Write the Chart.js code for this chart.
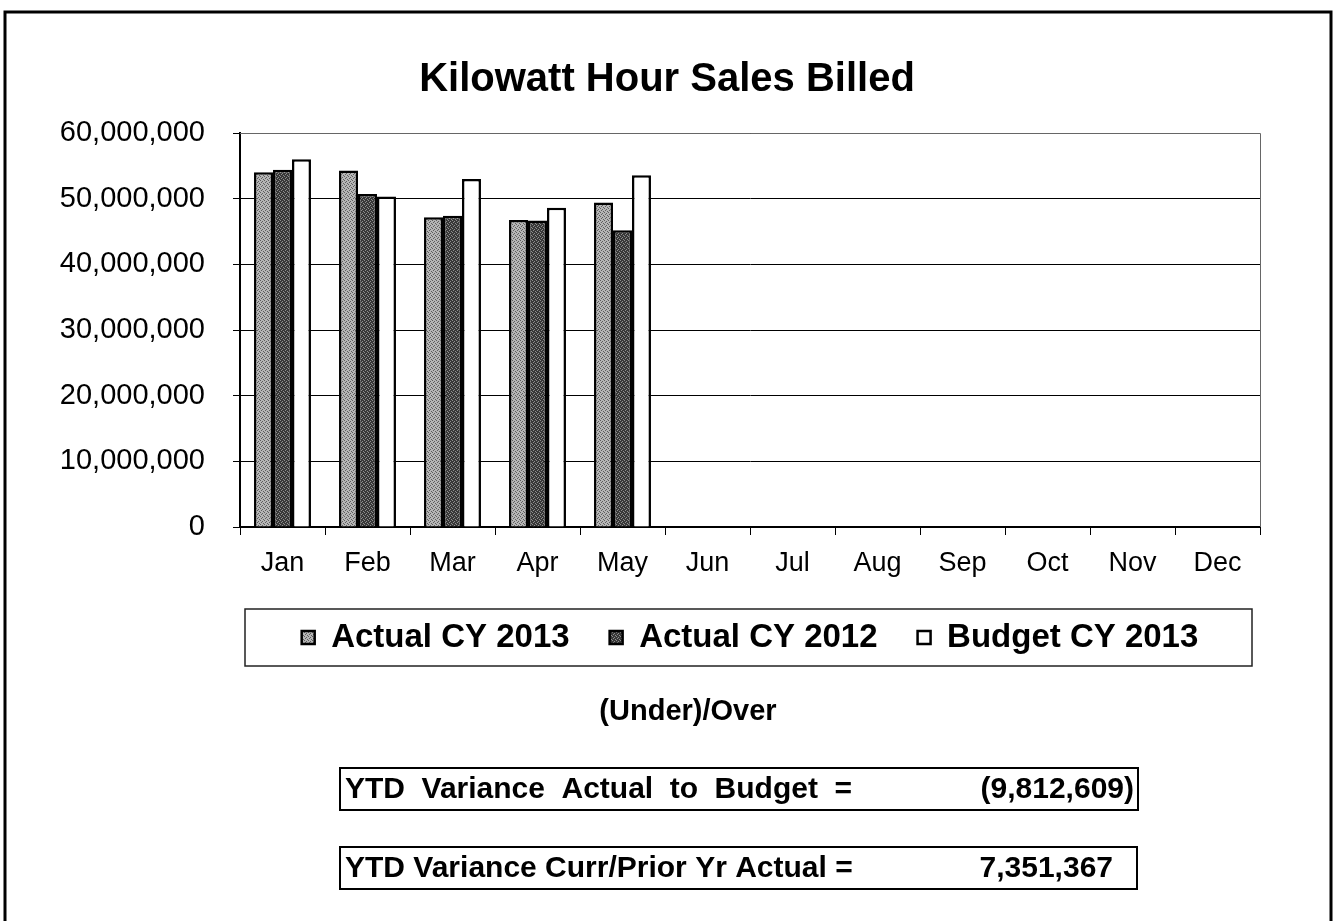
<!DOCTYPE html>
<html lang="en">
<head>
<meta charset="utf-8">
<title>Kilowatt Hour Sales Billed</title>
<script src="https://cdn.jsdelivr.net/npm/chart.js@4.4.1/dist/chart.umd.min.js"></script>
<style>
    html, body { margin: 0; padding: 0; background: #fff; }
    #chart-wrap { width: 1334px; height: 921px; }
</style>
</head>
<body>
<div id="chart-wrap"><canvas id="kwh-chart" width="1334" height="921"></canvas></div>
<script>
// chart data (kWh)
const months = ['Jan', 'Feb', 'Mar', 'Apr', 'May', 'Jun', 'Jul', 'Aug', 'Sep', 'Oct', 'Nov', 'Dec'];
const actualCy2013 = [54010000, 54290000, 47180000, 46770000, 49420000, null, null, null, null, null, null, null];
const actualCy2012 = [54400000, 50700000, 47380000, 46670000, 45200000, null, null, null, null, null, null, null];
const budgetCy2013 = [56000000, 50330000, 52980000, 48600000, 53550000, null, null, null, null, null, null, null];
const yTicks = [0, 10000000, 20000000, 30000000, 40000000, 50000000, 60000000];
const seriesLabels = ['Actual CY 2013', 'Actual CY 2012', 'Budget CY 2013'];

// notes under the chart
const noteTitle = '(Under)/Over';
const varianceLabels = ['YTD Variance Actual to Budget =', 'YTD Variance Curr/Prior Yr Actual ='];
const varianceValues = ['(9,812,609)', '7,351,367'];

const FONT = '"Liberation Sans", Arial, sans-serif';

class KwhSalesChart {
    constructor() {
        this.canvas = document.getElementById('kwh-chart');
        this.chart = null;
    }

    /**
     * Small stipple pattern, like the grey screen tones of the printout
     */
    makePattern(base, dot) {
        const tile = document.createElement('canvas');
        tile.width = 4;
        tile.height = 4;
        const t = tile.getContext('2d');
        t.fillStyle = base;
        t.fillRect(0, 0, 4, 4);
        t.fillStyle = dot;
        [[0, 0], [2, 1], [1, 2], [3, 3]].forEach(([x, y]) => t.fillRect(x, y, 1, 1));
        return this.canvas.getContext('2d').createPattern(tile, 'repeat');
    }

    initialize() {
        const lightFill = this.makePattern('#b6b6b6', '#5e5e5e');
        const darkFill = this.makePattern('#383838', '#8e8e8e');

        const decorations = {
            id: 'decorations',
            beforeDraw(chart) {
                const ctx = chart.ctx;
                ctx.save();
                ctx.fillStyle = '#fff';
                ctx.fillRect(0, 0, chart.width, chart.height);
                ctx.restore();
            },
            afterDraw(chart) {
                const {ctx, chartArea, legend} = chart;
                ctx.save();

                // plot area top / right edge
                ctx.strokeStyle = '#666';
                ctx.lineWidth = 1;
                ctx.beginPath();
                ctx.moveTo(chartArea.left, chartArea.top + 0.5);
                ctx.lineTo(chartArea.right + 0.5, chartArea.top + 0.5);
                ctx.lineTo(chartArea.right + 0.5, chartArea.bottom);
                ctx.stroke();

                // frame round the legend
                const hb = legend.legendHitBoxes[0];
                const cy = hb.top + hb.height / 2;
                ctx.strokeStyle = '#222';
                ctx.lineWidth = 1.5;
                ctx.strokeRect(legend.left + 5, cy - 28.5, legend.width - 13, 57);

                // outer page frame
                ctx.strokeStyle = '#000';
                ctx.lineWidth = 3;
                ctx.strokeRect(5, 12, chart.width - 8, chart.height + 20);

                // (Under)/Over
                ctx.fillStyle = '#000';
                ctx.font = `bold 29px ${FONT}`;
                ctx.textAlign = 'center';
                ctx.textBaseline = 'middle';
                ctx.fillText(noteTitle, 688, 712);

                // variance boxes
                const boxes = [
                    {top: 768, right: 1138, textEnd: 852, valueEnd: 1134},
                    {top: 847, right: 1137, textEnd: null, valueEnd: 1113}
                ];
                ctx.font = `bold 30px ${FONT}`;
                boxes.forEach((b, i) => {
                    ctx.lineWidth = 2;
                    ctx.strokeRect(340, b.top, b.right - 340, 42);
                    ctx.textAlign = 'left';
                    const label = varianceLabels[i];
                    if (b.textEnd && 'wordSpacing' in ctx) {
                        const gaps = label.split(' ').length - 1;
                        const natural = ctx.measureText(label).width;
                        ctx.wordSpacing = ((b.textEnd - 345 - natural) / gaps) + 'px';
                    }
                    ctx.fillText(label, 345, b.top + 22);
                    if ('wordSpacing' in ctx) ctx.wordSpacing = '0px';
                    ctx.textAlign = 'right';
                    ctx.fillText(varianceValues[i], b.valueEnd, b.top + 22);
                });

                ctx.restore();
            }
        };

        this.chart = new Chart(this.canvas, {
            type: 'bar',
            data: {
                labels: months,
                datasets: [
                    {label: seriesLabels[0], data: actualCy2013, backgroundColor: lightFill},
                    {label: seriesLabels[1], data: actualCy2012, backgroundColor: darkFill},
                    {label: seriesLabels[2], data: budgetCy2013, backgroundColor: '#fff'}
                ].map(ds => Object.assign(ds, {
                    borderColor: '#000',
                    borderWidth: 2.5,
                    categoryPercentage: 0.67,
                    barPercentage: 1.0
                }))
            },
            options: {
                responsive: false,
                devicePixelRatio: 1,
                animation: false,
                layout: {padding: {left: 10, right: 10, top: 0, bottom: 257}},
                scales: {
                    x: {
                        grid: {display: true, drawOnChartArea: false, drawTicks: true, tickLength: 8, color: '#000', offset: true},
                        border: {display: true, color: '#000', width: 2},
                        ticks: {color: '#000', padding: 12, font: {family: FONT, size: 27}, maxRotation: 0},
                        afterFit: s => { s.height = 54; }
                    },
                    y: {
                        min: yTicks[0],
                        max: yTicks[yTicks.length - 1],
                        afterBuildTicks: s => { s.ticks = yTicks.map(v => ({value: v})); },
                        grid: {color: '#000', lineWidth: 1, tickLength: 7},
                        border: {display: true, color: '#000', width: 2},
                        ticks: {
                            color: '#000',
                            padding: 28,
                            font: {family: FONT, size: 29},
                            callback: v => Number(v).toLocaleString('en-US')
                        },
                        afterFit: s => { s.width = 230; }
                    },
                    // empty right-hand gutter so the title stays centred on the page
                    gutter: {
                        type: 'linear',
                        position: 'right',
                        grid: {display: false},
                        border: {display: false},
                        ticks: {display: false},
                        afterFit: s => { s.width = 64; }
                    }
                },
                plugins: {
                    title: {
                        display: true,
                        text: 'Kilowatt Hour Sales Billed',
                        color: '#000',
                        font: {family: FONT, size: 40, weight: 'bold'},
                        padding: {top: 56, bottom: 29}
                    },
                    legend: {
                        position: 'bottom',
                        fullSize: false,
                        labels: {
                            color: '#000',
                            boxWidth: 13,
                            boxHeight: 13,
                            padding: 40,
                            font: {family: FONT, size: 33, weight: 'bold'}
                        }
                    },
                    tooltip: {enabled: false}
                }
            },
            plugins: [decorations]
        });
    }
}

const kwhSalesChart = new KwhSalesChart();
kwhSalesChart.initialize();
</script>
</body>
</html>
